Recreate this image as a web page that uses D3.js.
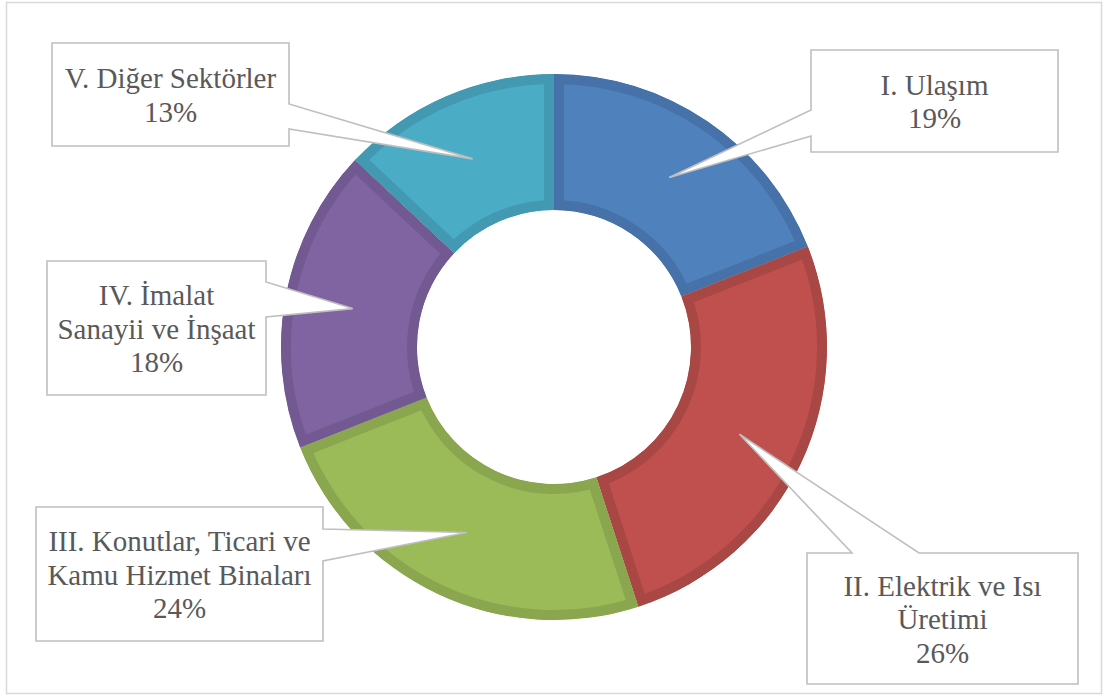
<!DOCTYPE html>
<html>
<head>
<meta charset="utf-8">
<script src="https://cdn.jsdelivr.net/npm/d3@7"></script>
<style>
  html, body { margin: 0; padding: 0; background: #fff; }
  svg { display: block; }
  .callout-text { font-family: "Liberation Serif", "Times New Roman", Times, "DejaVu Serif", serif; }
</style>
</head>
<body>
<svg id="chart" width="1103" height="697"></svg>
<script>
// Sector shares of emissions (percent), drawn clockwise from 12 o'clock
const sectors = ["I. Ulaşım", "II. Elektrik ve Isı Üretimi", "III. Konutlar, Ticari ve Kamu Hizmet Binaları", "IV. İmalat Sanayii ve İnşaat", "V. Diğer Sektörler"];
const shares = [19, 26, 24, 18, 13];
// Label text split into lines as shown inside each callout
const labelLines = [
  ["I. Ulaşım"],
  ["II. Elektrik ve Isı", "Üretimi"],
  ["III. Konutlar, Ticari ve", "Kamu Hizmet Binaları"],
  ["IV. İmalat", "Sanayii ve İnşaat"],
  ["V. Diğer Sektörler"]
];

// Styling
const fills   = ["#4F81BD", "#C0504D", "#9BBB59", "#8064A2", "#4BACC6"];
const borders = ["#4672A9", "#A94745", "#8AA64F", "#725991", "#4399B1"];

// Callout boxes: x0,y0,x1,y1 plus the side and span the pointer leaves from
const callouts = [
  { box: [811, 50, 1058, 152], side: "left",  base: [110, 136] },
  { box: [807, 553, 1078, 684], side: "top",  base: [852, 919] },
  { box: [36, 507, 323, 641],  side: "right", base: [529, 561] },
  { box: [47, 261, 266, 395],  side: "right", base: [282, 317] },
  { box: [52, 43, 289, 146],   side: "right", base: [104, 129] }
];

const svg = d3.select("#chart");
const cx = 554, cy = 347, rOuter = 273, rInner = 137;

// outer frame
svg.append("rect")
  .attr("x", 6.5).attr("y", 2.5).attr("width", 1095).attr("height", 691)
  .attr("fill", "#fff").attr("stroke", "#D9D9D9").attr("stroke-width", 1.5);

const data = sectors.map((s, i) => ({ name: s, value: shares[i], i }));
const pie = d3.pie().value(d => d.value).sort(null).startAngle(0).endAngle(2 * Math.PI);
const arc = d3.arc().innerRadius(rInner).outerRadius(rOuter);
const arcs = pie(data);

const g = svg.append("g").attr("transform", `translate(${cx},${cy})`);
const defs = svg.append("defs");

arcs.forEach((a, i) => {
  defs.append("clipPath").attr("id", "clip" + i)
    .append("path").attr("d", arc(a));
});

g.selectAll("path.slice")
  .data(arcs)
  .join("path")
  .attr("class", "slice")
  .attr("d", arc)
  .attr("fill", d => fills[d.data.i])
  .attr("stroke", d => borders[d.data.i])
  .attr("stroke-width", 20)
  .attr("stroke-linejoin", "miter")
  .attr("clip-path", d => `url(#clip${d.data.i})`);

// Callouts pointing at each slice centroid
const calloutGroup = svg.append("g");
arcs.forEach((a, i) => {
  const c = callouts[i];
  const [x0, y0, x1, y1] = c.box;
  const [tx, ty] = arc.centroid(a);
  const tipX = cx + tx, tipY = cy + ty;
  let p;
  if (c.side === "right") {
    p = `M${x0},${y0}H${x1}V${c.base[0]}L${tipX},${tipY}L${x1},${c.base[1]}V${y1}H${x0}Z`;
  } else if (c.side === "left") {
    p = `M${x0},${y0}H${x1}V${y1}H${x0}V${c.base[1]}L${tipX},${tipY}L${x0},${c.base[0]}Z`;
  } else {
    p = `M${x0},${y0}H${c.base[0]}L${tipX},${tipY}L${c.base[1]},${y0}H${x1}V${y1}H${x0}Z`;
  }
  calloutGroup.append("path")
    .attr("d", p)
    .attr("fill", "#fff")
    .attr("stroke", "#BFBFBF")
    .attr("stroke-width", 1.6)
    .attr("stroke-linejoin", "miter");

  const lines = labelLines[i].concat([d3.format("d")(shares[i]) + "%"]);
  const mx = (x0 + x1) / 2, my = (y0 + y1) / 2;
  const lh = 33.5;
  const text = calloutGroup.append("text")
    .attr("class", "callout-text")
    .attr("text-anchor", "middle")
    .style("font-size", "29px")
    .attr("fill", "#595959");
  lines.forEach((ln, k) => {
    text.append("tspan")
      .attr("x", mx)
      .attr("y", my + 10.5 + (k - (lines.length - 1) / 2) * lh)
      .text(ln);
  });
});
</script>
</body>
</html>
